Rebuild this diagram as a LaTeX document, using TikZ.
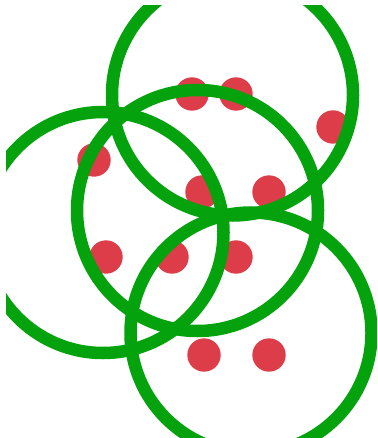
\documentclass[tikz,border=0pt]{standalone}
\definecolor{ringgreen}{HTML}{04A20C}
\definecolor{dotred}{HTML}{DC3D48}
\begin{document}
\begin{tikzpicture}[x=1pt,y=-1pt,
  ring/.style={draw=ringgreen,line width=12.5pt},
  dot/.style={fill=dotred}]
\useasboundingbox (0,0) rectangle (377,438);
\clip (6,6) rectangle (377,438);
% red dots (below rings)
\foreach \x/\y in {192/94,236/94,333/127,94/160,202/192,269/192,106/257,172/257,236/257,204/355,269/355}
  \fill[dot] (\x,\y) circle[radius=16.7];
% rings
\draw[ring] (232.5,95) circle[radius=120.5];
\draw[ring] (103,232.5) circle[radius=120.5];
\draw[ring] (197.5,210.5) circle[radius=120.5];
\draw[ring] (251,333) circle[radius=120.5];
\end{tikzpicture}
\end{document}
